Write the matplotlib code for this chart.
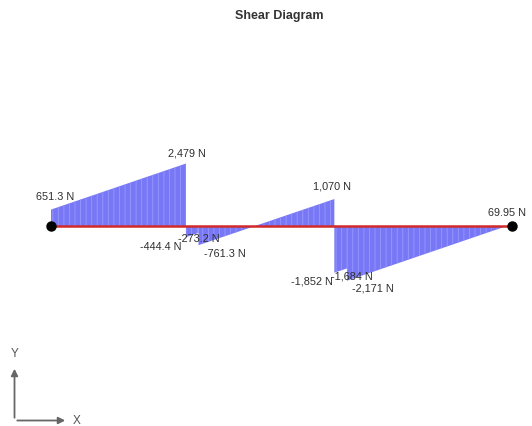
import matplotlib
matplotlib.use("Agg")
import matplotlib.pyplot as plt
from matplotlib.patches import FancyArrowPatch

plt.rcParams['font.family'] = ['Liberation Sans', 'DejaVu Sans']
plt.rcParams['hatch.linewidth'] = 0.6

# Beam length (m) and shear segments: each segment runs linearly
# from (x_start, v_start) to (x_end, v_end), values in N
beam_length = 10.25
seg_x_start = [0.0, 3.0, 3.28, 6.3, 6.58]
seg_x_end = [3.0, 3.28, 6.3, 6.58, 10.25]
seg_v_start = [651.3, -444.4, -761.3, -1852.0, -2171.0]
seg_v_end = [2479.0, -273.2, 1070.0, -1684.0, 69.95]

# Value labels
label_x = [0.0, 3.0, 3.0, 3.28, 3.28, 6.3, 6.3, 6.58, 6.58, 10.25]
label_v = [651.3, 2479.0, -444.4, -273.2, -761.3, 1070.0, -1852.0, -1684.0, -2171.0, 69.95]
label_text = ["651.3 N", "2,479 N", "-444.4 N", "-273.2 N", "-761.3 N",
              "1,070 N", "-1,852 N", "-1,684 N", "-2,171 N", "69.95 N"]
label_offset = [(4, 13), (1, 10), (-25, -10), (0, -6), (26, -9),
                (-2, 13), (-22, -9), (5, -8), (26, -8), (-5, 11)]

W, H = 532, 426
fig = plt.figure(figsize=(W / 100, H / 100), dpi=100)
ax = fig.add_axes([0, 0, 1, 1])

# pixel geometry of the diagram
px_left, px_right, px_axis = 51, 512, 226
px_per_m = (px_right - px_left) / beam_length
n_per_px = 39.7
ax.set_xlim(-px_left / px_per_m, (W - px_left) / px_per_m)
ax.set_ylim(-(H - px_axis) * n_per_px, px_axis * n_per_px)
ax.axis('off')

fill_col = '#7878f7'
stripe_col = '#9898ff'
for xs, xe, vs, ve in zip(seg_x_start, seg_x_end, seg_v_start, seg_v_end):
    ax.fill_between([xs, xe], [0, 0], [vs, ve], facecolor=fill_col,
                    edgecolor=stripe_col, hatch='|||', linewidth=0, zorder=2)

# beam line and end nodes
ax.plot([0, beam_length], [0, 0], color='#d02a2a', lw=1.8, zorder=3)
ax.plot([0, beam_length], [0, 0], 'o', color='black', ms=6.5, zorder=4)

for x, v, t, off in zip(label_x, label_v, label_text, label_offset):
    ax.annotate(t, xy=(x, v), xytext=off, textcoords='offset pixels',
                ha='center', va='center', fontsize=7.8, color='#2e2e2e', zorder=5)

fig.text(279 / W, 1 - 16 / H, "Shear Diagram", ha='center', va='center',
         fontsize=9, fontweight='bold', color='#333333')

# coordinate-system indicator
ox, oy = 14.5 / W, 1 - 420.5 / H
for tip in [(14.5 / W, 1 - 366 / H), (68 / W, 1 - 420.5 / H)]:
    fig.add_artist(FancyArrowPatch((ox, oy), tip, transform=fig.transFigure,
                                   arrowstyle='-|>,head_length=4,head_width=2',
                                   color='#666666', lw=1.3, mutation_scale=1))
fig.text(14.5 / W, 1 - 354 / H, "Y", ha='center', va='center', fontsize=8.5, color='#555555')
fig.text(77 / W, 1 - 420.5 / H, "X", ha='center', va='center', fontsize=8.5, color='#555555')

fig.savefig('out.png', dpi=100)
